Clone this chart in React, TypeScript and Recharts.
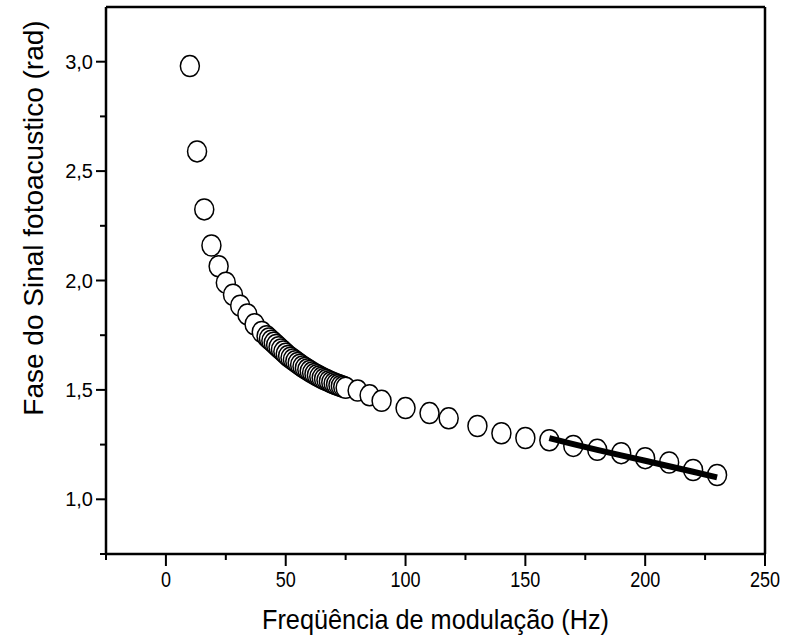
import { ReferenceLine, Scatter, ScatterChart, XAxis, YAxis } from "recharts";

const FONT = "'Liberation Sans', Arial, sans-serif";

// frequência (Hz) e fase (rad)
const FREQ = [
  10, 13, 16, 19, 22, 25, 28, 31, 34, 37, 40,
  42, 43, 44, 45, 46, 47, 48, 49, 50, 51, 52, 53, 54, 55, 56, 57, 58, 59, 60,
  61, 62, 63, 64, 65, 66, 67, 68, 69, 70, 71, 72, 73, 74, 75,
  80, 85, 90, 100, 110, 118, 130, 140, 150, 160, 170, 180, 190, 200, 210, 220, 230,
];
const PHASE = [
  2.98, 2.59, 2.325, 2.16, 2.065, 1.99, 1.935, 1.885, 1.845, 1.8, 1.765,
  1.745, 1.735, 1.725, 1.715, 1.705, 1.695, 1.685, 1.675, 1.665, 1.655, 1.647, 1.639, 1.631, 1.623, 1.615, 1.607, 1.6, 1.593, 1.586,
  1.579, 1.573, 1.567, 1.561, 1.555, 1.55, 1.545, 1.54, 1.535, 1.53, 1.526, 1.522, 1.518, 1.514, 1.51,
  1.497, 1.475, 1.45, 1.417, 1.394, 1.37, 1.335, 1.302, 1.28, 1.27, 1.244, 1.226, 1.211, 1.188, 1.168, 1.134, 1.111,
];

// ajuste (linha preta)
const FIT_FREQ = [160, 170, 180, 190, 200, 210, 220, 230];
const FIT_PHASE = [1.28, 1.252, 1.226, 1.201, 1.176, 1.151, 1.126, 1.1];

const X_TICKS = [-25, 0, 25, 50, 75, 100, 125, 150, 175, 200, 225, 250];
const X_MAJOR = [0, 50, 100, 150, 200, 250];
const Y_TICKS = [0.75, 1.0, 1.25, 1.5, 1.75, 2.0, 2.25, 2.5, 2.75, 3.0];
const Y_MAJOR = [1.0, 1.5, 2.0, 2.5, 3.0];

const points = FREQ.map((x, i) => ({ x, y: PHASE[i] }));
const fit = FIT_FREQ.map((x, i) => ({ x, y: FIT_PHASE[i] }));

function XTick(props: any) {
  const x = Number(props.x);
  const y = Number(props.y);
  const v = props.payload.value;
  const major = X_MAJOR.includes(v);
  const label = String(v);
  const fs = 22;
  return (
    <g>
      <rect x={x - 1} y={y} width={2} height={major ? 12 : 6} fill="#000" />
      {major && (
        <text
          x={x}
          y={y + 33}
          textAnchor="middle"
          fontSize={fs}
          fontFamily={FONT}
          fill="#000"
          textLength={label.length * 0.556 * fs * 0.82}
          lengthAdjust="spacingAndGlyphs"
        >
          {label}
        </text>
      )}
    </g>
  );
}

function YTick(props: any) {
  const x = Number(props.x);
  const y = Number(props.y);
  const v = props.payload.value;
  const major = Y_MAJOR.includes(v);
  const len = major ? 10 : 6;
  return (
    <g>
      <rect x={x - len} y={y - 1} width={len} height={2} fill="#000" />
      {major && (
        <text x={x - 13} y={y + 7} textAnchor="end" fontSize={20} fontFamily={FONT} fill="#000">
          {v.toFixed(1).replace(".", ",")}
        </text>
      )}
    </g>
  );
}

function YLabel() {
  const cx = 33;
  const cy = 218;
  return (
    <text
      x={cx}
      y={cy}
      transform={`rotate(-90 ${cx} ${cy})`}
      textAnchor="middle"
      dominantBaseline="central"
      fontSize={28}
      fontFamily={FONT}
      fill="#000"
    >
      Fase do Sinal fotoacustico (rad)
    </text>
  );
}

function XLabel({ viewBox }: any) {
  const cx = viewBox.x + viewBox.width / 2;
  return (
    <text
      x={cx}
      y={629}
      textAnchor="middle"
      fontSize={28}
      fontFamily={FONT}
      fill="#000"
      textLength={347}
      lengthAdjust="spacingAndGlyphs"
    >
      Freqüência de modulação (Hz)
    </text>
  );
}

const Circle = ({ cx, cy }: any) => (
  <ellipse cx={cx} cy={cy} rx={9.5} ry={10.5} fill="#fff" stroke="#000" strokeWidth={1.5} />
);

export default function App() {
  return (
    <div style={{ position: "absolute", left: 0, top: 0, background: "#fff" }}>
      <ScatterChart width={785} height={643} margin={{ top: 7, right: 20, left: 0, bottom: 0 }}>
        <XAxis
          type="number"
          dataKey="x"
          domain={[-25, 250]}
          ticks={X_TICKS}
          interval={0}
          allowDataOverflow
          tick={<XTick />}
          tickLine={false}
          tickSize={0}
          tickMargin={0}
          stroke="#000"
          axisLine={{ stroke: "#000", strokeWidth: 2.5 }}
          height={89}
          label={<XLabel />}
        />
        <YAxis
          type="number"
          dataKey="y"
          domain={[0.75, 3.25]}
          ticks={Y_TICKS}
          interval={0}
          allowDataOverflow
          tick={<YTick />}
          tickLine={false}
          tickSize={0}
          tickMargin={0}
          stroke="#000"
          axisLine={{ stroke: "#000", strokeWidth: 2.5 }}
          width={106}
          label={<YLabel />}
        />
        <ReferenceLine y={3.25} stroke="#000" strokeWidth={2.5} />
        <ReferenceLine x={250} stroke="#000" strokeWidth={2.5} />
        <Scatter data={points} shape={<Circle />} isAnimationActive={false} />
        <Scatter
          data={fit}
          line={{ stroke: "#000", strokeWidth: 6 }}
          shape={() => <g />}
          isAnimationActive={false}
        />
      </ScatterChart>
    </div>
  );
}
